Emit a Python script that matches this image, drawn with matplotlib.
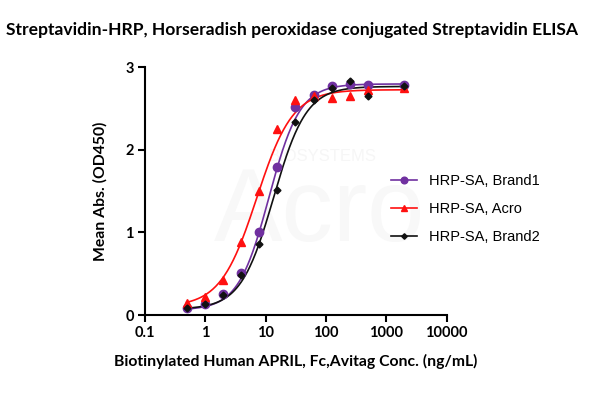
# Streptavidin-HRP ELISA: three HRP-SA lots, OD450 vs biotinylated APRIL conc.
import numpy as np
import matplotlib
matplotlib.use("Agg")
import matplotlib.pyplot as plt

conc = [0.49, 0.98, 1.95, 3.9, 7.8, 15.6, 31.25, 62.5, 125, 250, 500, 2000]

od_brand1 = [0.08, 0.13, 0.26, 0.51, 1.00, 1.79, 2.52, 2.67, 2.77, 2.80, 2.79, 2.79]
od_acro = [0.14, 0.22, 0.42, 0.88, 1.50, 2.25, 2.60, 2.66, 2.63, 2.66, 2.73, 2.75]
od_brand2 = [0.08, 0.13, 0.24, 0.48, 0.86, 1.51, 2.34, 2.61, 2.75, 2.83, 2.65, 2.78]

# 4PL fit parameters: bottom, top, EC50, hill
fit_brand1 = (0.06, 2.80, 11.4, 1.70)
fit_acro = (0.10, 2.73, 7.1, 1.45)
fit_brand2 = (0.07, 2.77, 13.5, 1.60)

labels = ["HRP-SA, Brand1", "HRP-SA, Acro", "HRP-SA, Brand2"]
colors = ["#7030A0", "#FF1010", "#111111"]
markers = ["o", "^", "D"]
msizes = [6, 6, 3.5]


def four_pl(x, p):
    b, t, ec, h = p
    return b + (t - b) / (1 + (ec / x) ** h)


fig = plt.figure(figsize=(6, 3.98), dpi=100)
ax = fig.add_axes([0.2417, 0.2085, 0.5025, 0.6220])

xs = np.logspace(np.log10(conc[0]), np.log10(conc[-1]), 300)
series = [od_brand1, od_acro, od_brand2]
fits = [fit_brand1, fit_acro, fit_brand2]
handles = []
for ys, p, lab, c, m, ms in zip(series, fits, labels, colors, markers, msizes):
    ax.plot(xs, four_pl(xs, p), color=c, lw=1.2, zorder=2)
    ax.plot(conc, ys, ls="none", marker=m, color=c, ms=ms, zorder=3)
    h, = ax.plot([], [], color=c, lw=1.2, marker=m, ms=ms * 0.8, label=lab)
    handles.append(h)

# very faint watermark
ax.text(0.58, 0.30, "Acro", transform=ax.transAxes, fontsize=74, color="#f8f8f8",
        ha="center", va="baseline", zorder=0, family="Liberation Sans")
ax.text(0.59, 0.64, "BIOSYSTEMS", transform=ax.transAxes, fontsize=12, color="#f6f6f6",
        ha="center", va="center", zorder=0, family="Liberation Sans")

ax.set_xscale("log")
ax.set_xlim(0.1, 10000)
ax.set_ylim(0, 3)
ax.set_xticks([0.1, 1, 10, 100, 1000, 10000])
ax.set_xticklabels(["0.1", "1", "10", "100", "1000", "10000"])
ax.xaxis.set_minor_locator(matplotlib.ticker.NullLocator())
ax.set_yticks([0, 1, 2, 3])
for s in ["top", "right"]:
    ax.spines[s].set_visible(False)
for s in ["left", "bottom"]:
    ax.spines[s].set_linewidth(1.5)
ax.tick_params(width=1.5, length=5, labelsize=10.5, pad=3)
for t in ax.get_xticklabels() + ax.get_yticklabels():
    t.set_fontfamily("Lato")
    t.set_fontweight("bold")

ax.set_xlabel("Biotinylated Human APRIL, Fc,Avitag Conc. (ng/mL)", family="Lato",
              fontweight="bold", fontsize=11.3, labelpad=10)
ax.set_ylabel("Mean Abs. (OD450)", family="Lato", fontweight="bold", fontsize=11.3,
              labelpad=13)
fig.text(0.4875, 0.925, "Streptavidin-HRP, Horseradish peroxidase conjugated Streptavidin ELISA",
         ha="center", va="center", family="Lato", fontweight="bold", fontsize=12.6)

leg = fig.legend(handles=handles, loc="upper left", bbox_to_anchor=(0.63, 0.595),
                 frameon=False, handlelength=1.8, labelspacing=0.95, handletextpad=0.8,
                 prop={"family": "Liberation Sans", "size": 10.5})

fig.savefig("out.png", dpi=100)
